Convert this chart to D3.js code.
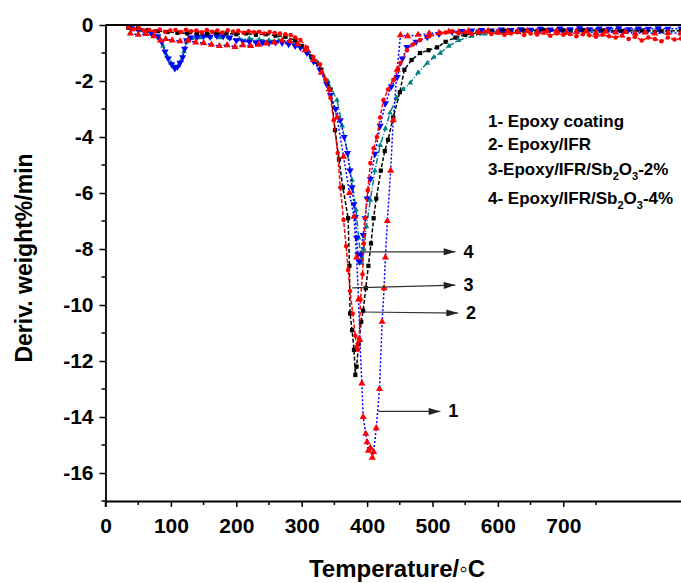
<!DOCTYPE html>
<html>
<head>
<meta charset="utf-8">
<script src="https://cdn.jsdelivr.net/npm/d3@7"></script>
<style>
body { margin: 0; background: #fff; }
text { font-family: "Liberation Sans", Arial, sans-serif; font-weight: bold; }
</style>
</head>
<body>
<div id="chart"></div>
<script>
/* DTG curves: [temperature °C, deriv. weight %/min] */

// 1- Epoxy coating
var epoxyCoating = [[38,-0.30],[50,-0.35],[62,-0.32],[74,-0.40],[84,-0.55],[92,-0.50],[102,-0.55],[114,-0.58],[126,-0.55],[138,-0.62],[150,-0.65],[162,-0.70],[174,-0.75],[186,-0.72],[198,-0.78],[210,-0.72],[222,-0.75],[234,-0.70],[246,-0.66],[258,-0.62],[270,-0.55],[282,-0.58],[294,-0.68],[305,-0.90],[318,-1.25],[330,-1.70],[342,-2.30],[354,-3.30],[364,-4.70],[373,-6.00],[380,-6.85],[384,-8.30],[387,-9.80],[389,-11.25],[392,-12.80],[394,-14.00],[398,-14.60],[400,-14.90],[402,-15.20],[405,-15.10],[408,-15.45],[410,-15.25],[414,-14.40],[419,-13.00],[423,-10.60],[426,-9.40],[428,-8.30],[431,-7.00],[436,-5.20],[440,-3.40],[446,-1.60],[451,-0.36],[462,-0.40],[478,-0.35],[495,-0.30],[510,-0.28],[525,-0.24],[540,-0.25],[555,-0.22],[570,-0.24],[585,-0.21],[600,-0.25],[615,-0.22],[630,-0.24],[645,-0.21],[660,-0.25],[675,-0.23],[690,-0.22],[705,-0.26],[720,-0.25],[735,-0.23],[750,-0.28],[765,-0.24],[780,-0.27],[795,-0.25],[810,-0.30],[825,-0.27],[840,-0.30],[860,-0.28],[880,-0.30]];

// 2- Epoxy/IFR
var epoxyIFR = [[35,-0.10],[50,-0.12],[65,-0.18],[80,-0.22],[95,-0.25],[110,-0.28],[125,-0.30],[140,-0.30],[155,-0.32],[170,-0.28],[185,-0.30],[200,-0.33],[215,-0.30],[230,-0.35],[245,-0.33],[260,-0.38],[275,-0.42],[290,-0.55],[300,-0.75],[315,-1.15],[330,-1.60],[344,-2.30],[351,-3.75],[357,-4.80],[363,-5.80],[371,-6.90],[373,-8.60],[374,-10.30],[377,-10.90],[380,-11.60],[382,-12.50],[384,-12.20],[387,-11.40],[391,-10.60],[394,-10.20],[398,-9.40],[402,-8.60],[406,-7.80],[410,-6.90],[414,-6.20],[421,-5.20],[427,-4.50],[432,-4.10],[440,-3.30],[450,-2.40],[457,-1.60],[468,-1.25],[481,-1.00],[494,-0.90],[507,-0.80],[520,-0.60],[535,-0.45],[550,-0.35],[570,-0.28],[590,-0.22],[610,-0.20],[640,-0.20],[670,-0.18],[700,-0.20],[730,-0.18],[760,-0.20],[790,-0.22],[820,-0.20],[850,-0.22],[880,-0.20]];

// 3- Epoxy/IFR/Sb2O3-2%
var sb2 = [[35,-0.08],[43,-0.15],[51,-0.12],[59,-0.20],[67,-0.18],[75,-0.22],[83,-0.16],[91,-0.24],[99,-0.20],[107,-0.18],[115,-0.25],[123,-0.17],[131,-0.22],[139,-0.20],[147,-0.26],[155,-0.18],[163,-0.24],[171,-0.20],[179,-0.27],[187,-0.19],[195,-0.23],[203,-0.21],[211,-0.28],[219,-0.22],[227,-0.26],[235,-0.24],[243,-0.30],[251,-0.25],[259,-0.29],[267,-0.30],[275,-0.33],[283,-0.36],[290,-0.45],[298,-0.54],[308,-0.80],[318,-1.14],[328,-1.40],[336,-1.95],[344,-2.60],[349,-3.40],[355,-4.57],[359,-5.80],[364,-6.96],[368,-7.90],[371,-8.75],[374,-9.50],[378,-10.30],[382,-11.10],[384,-11.50],[386,-11.60],[388,-11.20],[390,-9.80],[393,-8.90],[395,-7.80],[397,-6.90],[401,-5.90],[405,-4.93],[410,-4.40],[415,-4.00],[420,-3.30],[425,-2.68],[432,-2.30],[440,-1.96],[451,-1.36],[461,-0.90],[470,-0.70],[481,-0.54],[495,-0.40],[512,-0.29],[520,-0.27],[530,-0.22],[540,-0.30],[550,-0.25],[560,-0.33],[570,-0.28],[580,-0.24],[590,-0.32],[600,-0.28],[610,-0.35],[620,-0.30],[630,-0.26],[640,-0.36],[650,-0.30],[660,-0.34],[670,-0.28],[680,-0.38],[690,-0.30],[700,-0.35],[710,-0.32],[720,-0.40],[730,-0.33],[740,-0.37],[750,-0.42],[760,-0.35],[770,-0.40],[780,-0.45],[790,-0.38],[800,-0.50],[810,-0.42],[820,-0.55],[830,-0.45],[840,-0.50],[850,-0.58],[860,-0.45],[870,-0.52],[880,-0.48]];

// 4- Epoxy/IFR/Sb2O3-4%  (two runs)
var sb4 = [[40,-0.12],[50,-0.18],[60,-0.22],[70,-0.28],[80,-0.40],[86,-0.60],[91,-0.95],[96,-1.20],[101,-1.40],[106,-1.55],[110,-1.50],[114,-1.35],[118,-1.15],[121,-0.85],[124,-0.55],[130,-0.45],[140,-0.42],[150,-0.40],[160,-0.42],[170,-0.38],[180,-0.40],[190,-0.45],[200,-0.55],[210,-0.58],[220,-0.60],[230,-0.62],[240,-0.62],[250,-0.64],[260,-0.62],[270,-0.64],[280,-0.68],[290,-0.75],[298,-0.80],[308,-1.00],[318,-1.30],[328,-1.60],[338,-2.10],[344,-2.50],[352,-3.00],[359,-3.40],[365,-4.00],[370,-4.57],[374,-5.20],[377,-5.80],[380,-6.40],[382,-6.86],[384,-7.60],[386,-8.20],[388,-8.45],[391,-8.20],[394,-7.50],[397,-6.90],[400,-6.20],[405,-5.50],[412,-4.60],[420,-3.60],[428,-2.80],[437,-2.20],[446,-1.86],[454,-1.20],[461,-0.79],[475,-0.60],[492,-0.43],[510,-0.32],[530,-0.25],[545,-0.22],[560,-0.20],[575,-0.18],[590,-0.20],[605,-0.16],[620,-0.18],[635,-0.15],[650,-0.17],[665,-0.14],[680,-0.16],[695,-0.13],[710,-0.15],[725,-0.12],[740,-0.15],[755,-0.13],[770,-0.14],[785,-0.12],[800,-0.15],[815,-0.13],[830,-0.14],[845,-0.12],[860,-0.14],[880,-0.13]];
var sb4b = [[40,-0.12],[55,-0.20],[70,-0.30],[82,-0.45],[88,-0.75],[94,-1.10],[100,-1.35],[106,-1.50],[111,-1.45],[116,-1.25],[120,-0.95],[124,-0.60],[132,-0.48],[145,-0.45],[160,-0.42],[175,-0.45],[190,-0.48],[205,-0.50],[220,-0.48],[235,-0.52],[250,-0.55],[265,-0.55],[280,-0.60],[295,-0.72],[310,-0.95],[325,-1.35],[340,-2.00],[354,-2.68],[362,-3.60],[370,-4.57],[377,-5.54],[383,-6.60],[387,-7.60],[390,-8.20],[392,-8.50],[395,-8.00],[399,-7.20],[405,-6.25],[412,-5.20],[420,-4.30],[428,-3.70],[435,-3.14],[445,-2.60],[455,-2.30],[466,-2.07],[478,-1.70],[492,-1.36],[502,-1.15],[512,-1.00],[525,-0.75],[540,-0.55],[560,-0.40],[580,-0.32],[600,-0.28],[630,-0.25],[660,-0.22],[690,-0.20],[720,-0.22],[750,-0.20],[780,-0.22],[810,-0.20],[840,-0.22],[880,-0.20]];

var xTicks = [0, 100, 200, 300, 400, 500, 600, 700];
var xMinor = [50, 150, 250, 350, 450, 550, 650, 750];
var yTicks = [0, -2, -4, -6, -8, -10, -12, -14, -16];
var yMinor = [-1, -3, -5, -7, -9, -11, -13, -15, -17];

var legendLines = [
	[{t: "1- Epoxy coating"}],
	[{t: "2- Epoxy/IFR"}],
	[{t: "3-Epoxy/IFR/Sb"}, {t: "2", sub: true}, {t: "O"}, {t: "3", sub: true}, {t: "-2%"}],
	[{t: "4- Epoxy/IFR/Sb"}, {t: "2", sub: true}, {t: "O"}, {t: "3", sub: true}, {t: "-4%"}]
];

// arrows: label, start [T, value], end point
var arrows = [
	{label: "4", from: [389.6, -8.10], toT: 535, toV: -8.10},
	{label: "3", from: [377.2, -9.39], toT: 535, toV: -9.29},
	{label: "2", from: [394.0, -10.25], toT: 539, toV: -10.29},
	{label: "1", from: [417.0, -13.80], toT: 512, toV: -13.80}
];

var w = 681, h = 583;

var svg = d3.select("#chart")
	.append("svg")
	.attr("width", w)
	.attr("height", h);

var x = d3.scaleLinear().domain([0, 880]).range([105.5, 681]);
var y = d3.scaleLinear().domain([-17, 0]).range([501, 25]);

svg.append("clipPath").attr("id", "plotClip")
	.append("rect").attr("x", 106).attr("y", 25).attr("width", 580).attr("height", 476);

var line = d3.line()
	.x(function(d){ return x(d[0]); })
	.y(function(d){ return y(d[1]); });

var series = [
	{data: sb4b, stroke: "#008080", dash: "6,2,1,2", fill: "#008080", sym: d3.symbolTriangle, rot: 0, size: 14},
	{data: sb4, stroke: "#0000ff", dash: "2,2", fill: "#0000ff", sym: d3.symbolTriangle, rot: 180, size: 22},
	{data: epoxyIFR, stroke: "#000", dash: "4,2", fill: "#000", sym: d3.symbolSquare, rot: 0, size: 18},
	{data: epoxyCoating, stroke: "#0000ff", dash: "2,2", fill: "#ff0000", sym: d3.symbolTriangle, rot: 0, size: 22},
	{data: sb2, stroke: "#ff0000", dash: "4,2", fill: "#ff0000", sym: d3.symbolCircle, rot: 0, size: 16}
];

var plot = svg.append("g").attr("clip-path", "url(#plotClip)");

series.forEach(function(s){
	plot.append("path")
		.datum(s.data)
		.attr("d", line)
		.attr("fill", "none")
		.attr("stroke", s.stroke)
		.attr("stroke-width", 1.5)
		.attr("stroke-dasharray", s.dash);
	plot.selectAll(null)
		.data(s.data)
		.enter()
		.append("path")
		.attr("d", d3.symbol().type(s.sym).size(s.size))
		.attr("transform", function(d){
			return "translate(" + x(d[0]) + "," + y(d[1]) + ") rotate(" + s.rot + ")";
		})
		.attr("fill", s.fill);
});

// axes
var fmt = function(d){ return String(d); };

var xAxis = svg.append("g")
	.attr("transform", "translate(0," + y(-17) + ")")
	.call(d3.axisBottom(x).tickValues(xTicks).tickSize(6).tickSizeOuter(0).tickPadding(11).tickFormat(fmt));
xAxis.append("g").selectAll("line").data(xMinor).enter().append("line")
	.attr("x1", function(d){ return x(d); }).attr("x2", function(d){ return x(d); })
	.attr("y1", 0).attr("y2", 4).attr("stroke", "#000").attr("stroke-width", 1.5);

var yAxis = svg.append("g")
	.attr("transform", "translate(" + x(0) + ",0)")
	.call(d3.axisLeft(y).tickValues(yTicks).tickSize(6).tickSizeOuter(0).tickPadding(6).tickFormat(fmt));
yAxis.append("g").selectAll("line").data(yMinor).enter().append("line")
	.attr("y1", function(d){ return y(d); }).attr("y2", function(d){ return y(d); })
	.attr("x1", 0).attr("x2", -4).attr("stroke", "#000").attr("stroke-width", 1.5);
yAxis.append("line").attr("x1", 0).attr("x2", 0).attr("y1", y(-17)).attr("y2", y(-17) + 6)
	.attr("stroke", "#000").attr("stroke-width", 1.5);

[xAxis, yAxis].forEach(function(a){
	a.select(".domain").attr("stroke-width", 1.8);
	a.selectAll(".tick line").attr("stroke-width", 1.5);
	a.selectAll(".tick text").style("font-size", "21px").attr("fill", "#000");
});

// top frame
svg.append("line")
	.attr("x1", x(0)).attr("x2", w).attr("y1", y(0)).attr("y2", y(0))
	.attr("stroke", "#000").attr("stroke-width", 2.2);

// axis titles
svg.append("text")
	.attr("x", 397).attr("y", 577)
	.attr("text-anchor", "middle")
	.style("font-size", "24px")
	.text("Temperature/\u25E6C");

svg.append("text")
	.attr("transform", "translate(32,258) rotate(-90)")
	.attr("text-anchor", "middle")
	.style("font-size", "23px")
	.text("Deriv. weight%/min");

// legend
var legY = [127, 150, 175, 204];
legendLines.forEach(function(parts, i){
	var t = svg.append("text")
		.attr("x", 488).attr("y", legY[i])
		.style("font-size", "17px");
	parts.forEach(function(p, j){
		var sp = t.append("tspan").text(p.t);
		if (p.sub) sp.attr("dy", 5).style("font-size", "11px");
		else if (j > 0 && parts[j - 1].sub) sp.attr("dy", -5);
	});
});

// arrows
svg.append("defs").append("marker")
	.attr("id", "head")
	.attr("viewBox", "0 0 10 6")
	.attr("refX", 10).attr("refY", 3)
	.attr("markerWidth", 14).attr("markerHeight", 7)
	.attr("markerUnits", "userSpaceOnUse")
	.attr("orient", "auto")
	.append("path").attr("d", "M0,0 L10,3 L0,6 Z").attr("fill", "#222");

arrows.forEach(function(a){
	svg.append("line")
		.attr("x1", x(a.from[0])).attr("y1", y(a.from[1]))
		.attr("x2", x(a.toT)).attr("y2", y(a.toV))
		.attr("stroke", "#333").attr("stroke-width", 1.2)
		.attr("marker-end", "url(#head)");
	svg.append("text")
		.attr("x", x(a.toT) + 8).attr("y", y(a.toV) + 6)
		.style("font-size", "18px")
		.text(a.label);
});
</script>
</body>
</html>
